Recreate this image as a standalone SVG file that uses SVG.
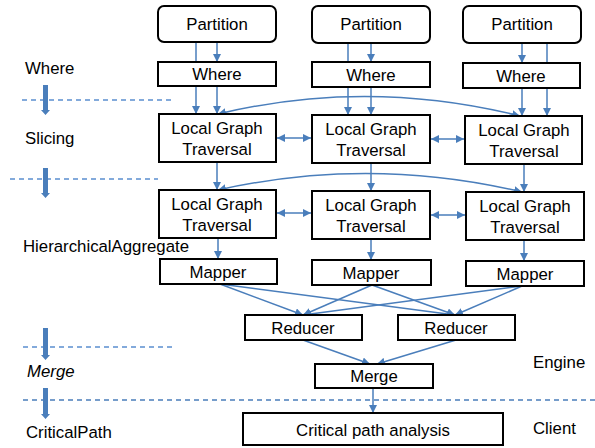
<svg xmlns="http://www.w3.org/2000/svg" width="595" height="448" viewBox="0 0 595 448">
<defs>
<marker id="ah" viewBox="0 0 10 10" refX="10" refY="5" markerWidth="8" markerHeight="8" markerUnits="userSpaceOnUse" orient="auto-start-reverse">
<path d="M0,0 L10,5 L0,10 z" fill="#4a7ebb"/>
</marker>
<style>
.box{fill:#fff;stroke:#000;stroke-width:2}
.t{font-family:"Liberation Sans",Arial,sans-serif;font-size:16.8px;fill:#000;text-anchor:middle}
.lbl{font-family:"Liberation Sans",Arial,sans-serif;font-size:16.8px;fill:#000}
.c{fill:none;stroke:#4a7ebb;stroke-width:1.5}
.a{marker-end:url(#ah)}
.b{marker-start:url(#ah);marker-end:url(#ah)}
.dash{fill:none;stroke:#5b8fd0;stroke-width:1.3;stroke-dasharray:5 4}
.blk{fill:#4a7ebb}
</style>
</defs>
<rect width="595" height="448" fill="#fff"/>

<g id="phase-guides">
<line class="dash" x1="22" y1="100" x2="172" y2="100"/>
<line class="dash" x1="10" y1="179" x2="158" y2="179"/>
<line class="dash" x1="23" y1="347" x2="172" y2="347"/>
<line class="dash" x1="23" y1="400" x2="595" y2="400" style="stroke:#4a7ebb"/>
<polygon class="blk" points="43,85 48,85 48,110 50,110 45.5,115 41,110 43,110"/>
<polygon class="blk" points="43,168 48,168 48,193 50,193 45.5,198 41,193 43,193"/>
<polygon class="blk" points="43,328 48,328 48,355 50,355 45.5,360 41,355 43,355"/>
<polygon class="blk" points="43,388 48,388 48,414 50,414 45.5,419 41,414 43,414"/>
<text class="lbl" x="25" y="74">Where</text>
<text class="lbl" x="25" y="144">Slicing</text>
<text class="lbl" x="23" y="252">HierarchicalAggregate</text>
<text class="lbl" x="27" y="377" font-style="italic">Merge</text>
<text class="lbl" x="26" y="438">CriticalPath</text>
<text class="lbl" x="533" y="368">Engine</text>
<text class="lbl" x="533" y="434">Client</text>
</g>

<g id="connectors">
<line class="c" x1="196" y1="42" x2="196" y2="62"/>
<line class="c a" x1="217" y1="42" x2="217" y2="62"/>
<line class="c" x1="348" y1="43" x2="348" y2="62"/>
<line class="c a" x1="371" y1="43" x2="371" y2="62"/>
<line class="c a" x1="522" y1="43" x2="522" y2="63"/>
<line class="c" x1="547" y1="43" x2="547" y2="63"/>

<line class="c a" x1="196" y1="86" x2="196" y2="114"/>
<line class="c a" x1="217" y1="86" x2="217" y2="114"/>
<line class="c a" x1="348" y1="87" x2="348" y2="115"/>
<line class="c a" x1="371" y1="87" x2="371" y2="115"/>
<line class="c a" x1="522" y1="88" x2="522" y2="116"/>
<line class="c a" x1="547" y1="88" x2="547" y2="116"/>

<path class="c b" d="M218,114 Q368,78 520,116"/>
<line class="c b" x1="277" y1="138" x2="311" y2="138"/>
<line class="c b" x1="431" y1="139" x2="464" y2="139"/>

<line class="c a" x1="217" y1="162" x2="217" y2="190"/>
<line class="c a" x1="371" y1="163" x2="371" y2="191"/>
<line class="c a" x1="524" y1="164" x2="524" y2="192"/>

<path class="c b" d="M218,190 Q370,156 522,192"/>
<line class="c b" x1="277" y1="213" x2="311" y2="213"/>
<line class="c b" x1="431" y1="215" x2="465" y2="215"/>

<line class="c a" x1="218" y1="238" x2="218" y2="259"/>
<line class="c a" x1="371" y1="239" x2="371" y2="260"/>
<line class="c a" x1="524" y1="240" x2="524" y2="261"/>

<line class="c a" x1="220" y1="284" x2="303" y2="315"/>
<line class="c a" x1="220" y1="284" x2="455" y2="315"/>
<line class="c a" x1="372" y1="285" x2="303" y2="315"/>
<line class="c a" x1="372" y1="285" x2="455" y2="315"/>
<line class="c a" x1="522" y1="286" x2="303" y2="315"/>
<line class="c a" x1="522" y1="286" x2="455" y2="315"/>

<line class="c a" x1="303" y1="340" x2="370" y2="364"/>
<line class="c a" x1="456" y1="340" x2="377" y2="364"/>
<line class="c a" x1="373" y1="388" x2="373" y2="413"/>
</g>

<g id="partition-1"><rect class="box" x="158" y="6" width="118" height="36" rx="6"/><text class="t" x="217" y="30">Partition</text></g>
<g id="partition-2"><rect class="box" x="312" y="6" width="118" height="37" rx="6"/><text class="t" x="371" y="30">Partition</text></g>
<g id="partition-3"><rect class="box" x="463" y="6" width="118" height="37" rx="6"/><text class="t" x="522" y="30">Partition</text></g>

<g id="where-1"><rect class="box" x="158" y="62" width="118" height="24"/><text class="t" x="217" y="80">Where</text></g>
<g id="where-2"><rect class="box" x="312" y="62" width="118" height="25"/><text class="t" x="371" y="81">Where</text></g>
<g id="where-3"><rect class="box" x="463" y="63" width="117" height="25"/><text class="t" x="521" y="82">Where</text></g>

<g id="lgt-1-1"><rect class="box" x="159" y="114" width="117" height="48"/><text class="t" x="217" y="134">Local Graph</text><text class="t" x="217" y="155">Traversal</text></g>
<g id="lgt-1-2"><rect class="box" x="312" y="115" width="118" height="48"/><text class="t" x="371" y="135">Local Graph</text><text class="t" x="371" y="156">Traversal</text></g>
<g id="lgt-1-3"><rect class="box" x="465" y="116" width="117" height="48"/><text class="t" x="524" y="136">Local Graph</text><text class="t" x="524" y="157">Traversal</text></g>

<g id="lgt-2-1"><rect class="box" x="159" y="190" width="117" height="48"/><text class="t" x="217" y="210">Local Graph</text><text class="t" x="217" y="231">Traversal</text></g>
<g id="lgt-2-2"><rect class="box" x="312" y="191" width="118" height="48"/><text class="t" x="371" y="211">Local Graph</text><text class="t" x="371" y="232">Traversal</text></g>
<g id="lgt-2-3"><rect class="box" x="466" y="192" width="118" height="48"/><text class="t" x="525" y="212">Local Graph</text><text class="t" x="525" y="233">Traversal</text></g>

<g id="mapper-1"><rect class="box" x="160" y="259" width="117" height="25"/><text class="t" x="218" y="278">Mapper</text></g>
<g id="mapper-2"><rect class="box" x="312" y="260" width="119" height="25"/><text class="t" x="371" y="279">Mapper</text></g>
<g id="mapper-3"><rect class="box" x="466" y="261" width="118" height="25"/><text class="t" x="525" y="280">Mapper</text></g>

<g id="reducer-1"><rect class="box" x="245" y="315" width="117" height="25"/><text class="t" x="303" y="334">Reducer</text></g>
<g id="reducer-2"><rect class="box" x="398" y="315" width="117" height="25"/><text class="t" x="456" y="334">Reducer</text></g>

<g id="merge"><rect class="box" x="315" y="364" width="118" height="24"/><text class="t" x="374" y="382">Merge</text></g>

<g id="critical-path-analysis"><rect class="box" x="243" y="413" width="260" height="32"/><text class="t" x="373" y="436">Critical path analysis</text></g>
</svg>
